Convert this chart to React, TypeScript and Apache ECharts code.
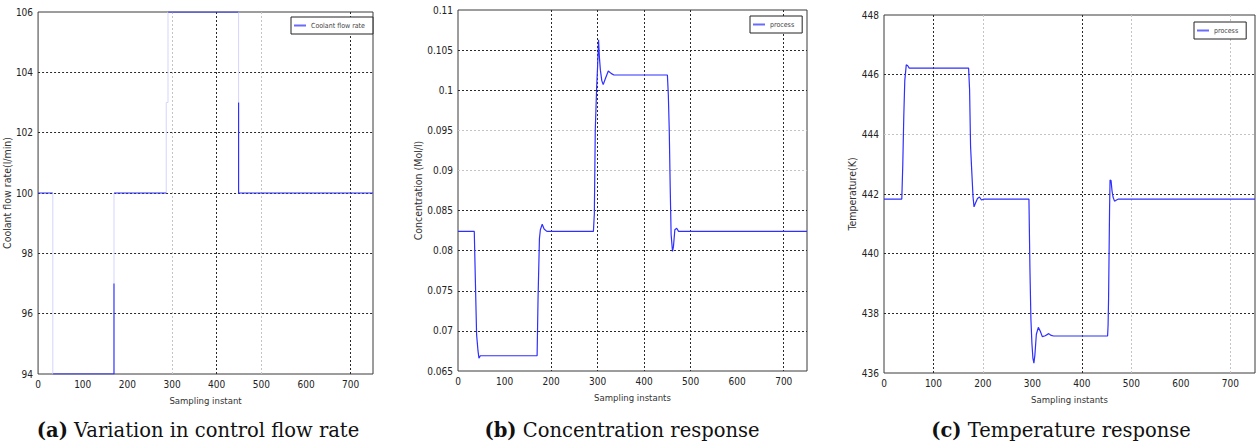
import React, { useEffect, useRef } from "react";
import * as echarts from "echarts";

// ---------- data ----------
const xTicksMax = 750;

// (a) Coolant flow rate [sampling instant, l/min] — strongly drawn parts
const coolantFlow: ([number, number] | null)[] = [
  [0, 100], [33, 100], null,
  [33, 94], [170, 94], [170, 97], null,
  [170, 100], [287, 100], null,
  [291, 106], [449, 106], null,
  [449, 103], [449, 100], [750, 100],
];
// (a) faintly rendered transitions of the same signal
const coolantFlowFaint: ([number, number] | null)[] = [
  [33, 100], [33, 94], null,
  [170, 97], [170, 100], null,
  [287, 100], [287, 103], [291, 103], [291, 106], null,
  [449, 106], [449, 103],
];

// (b) Concentration response [sampling instant, mol/l]
const concentration: [number, number][] = [
  [0, 0.0824], [35, 0.0824], [37, 0.0771], [39, 0.072], [40, 0.0695], [43, 0.0675],
  [45, 0.0666], [48, 0.0669], [170, 0.0669], [172, 0.074], [175, 0.0815], [177, 0.0826],
  [181, 0.0833], [185, 0.0827], [191, 0.0824], [291, 0.0824], [293, 0.0846], [295, 0.095],
  [298, 0.1004], [300, 0.103], [302, 0.1063], [304, 0.104], [306, 0.1025], [309, 0.1012],
  [312, 0.1007], [317, 0.1015], [323, 0.1024], [329, 0.1021], [335, 0.1019], [450, 0.1019],
  [452, 0.0994], [454, 0.095], [456, 0.088], [458, 0.082], [461, 0.0799], [463, 0.0805],
  [466, 0.0826], [470, 0.0828], [474, 0.0824], [750, 0.0824],
];

// (c) Temperature response [sampling instant, K]
const temperature: [number, number][] = [
  [0, 441.83], [36, 441.83], [38, 443.0], [40, 444.6], [42, 445.8], [45, 446.33],
  [48, 446.3], [51, 446.22], [171, 446.22], [173, 445.5], [175, 443.6], [177, 442.9],
  [180, 441.9], [182, 441.57], [185, 441.7], [189, 441.85], [193, 441.9], [197, 441.8],
  [202, 441.83], [293, 441.83], [295, 439.5], [297, 437.8], [299, 437.0], [301, 436.5],
  [303, 436.33], [305, 436.6], [308, 437.3], [312, 437.53], [316, 437.4], [320, 437.22],
  [326, 437.25], [333, 437.32], [338, 437.26], [343, 437.24], [452, 437.24], [453, 437.6],
  [454, 438.5], [455, 440.0], [456, 441.5], [457, 442.47], [459, 442.45], [461, 442.1],
  [463, 441.9], [466, 441.76], [470, 441.8], [474, 441.83], [750, 441.83],
];

const seriesNames = ["Coolant flow rate", "process", "process"];
const xTitles = ["Sampling instant", "Sampling instants", "Sampling instants"];
const yTitles = ["Coolant flow rate(l/min)", "Concentration (Mol/l)", "Temperature(K)"];
const captionTags = ["(a)", "(b)", "(c)"];
const captionTexts = ["Variation in control flow rate", "Concentration response", "Temperature response"];

// ---------- styling ----------
const T = "rgba(0,0,0,0)";
const D = "#2a2a2a";
const L = "#c4c4c4";
const LINE = "#2f2fff";
const FAINT = "#d4d4ff";
const tickFont = "'Liberation Sans Narrow', 'DejaVu Sans Condensed', 'Arial Narrow', sans-serif";
const captionFont = "'DejaVu Serif', serif";
const captionSize = 19.5;

const grids = [
  { left: 35, top: 12, width: 338, height: 362 },
  { left: 458, top: 10, width: 349, height: 361 },
  { left: 884, top: 15, width: 371, height: 358 },
];

const yRanges = [
  { min: 94, max: 106, interval: 2 },
  { min: 0.065, max: 0.11, interval: 0.005 },
  { min: 436, max: 448, interval: 2 },
];

const xGridColors = [
  [T, T, T, L, D, L, T, D, T],
  [T, T, D, D, D, D, T, D, T],
  [T, D, L, T, D, L, T, L, T],
];
const yGridColors = [
  [T, D, D, D, D, D, T],
  [T, D, D, D, D, L, L, D, D, T],
  [T, D, D, D, L, D, T],
];

const yNameGaps = [18, 23, 19];
const legendPos = [
  { left: 291, top: 17 },
  { left: 750, top: 16 },
  { left: 1194, top: 22 },
];
const captionCenters = [198, 622, 1061];

export default function App() {
  const ref = useRef<HTMLDivElement>(null);

  useEffect(() => {
    if (!ref.current) return;
    const chart = echarts.init(ref.current, undefined, { renderer: "svg" });
    const dataSets = [coolantFlow, concentration, temperature];

    const series: any[] = dataSets.map((d, i) => ({
      type: "line",
      name: seriesNames[i],
      xAxisIndex: i,
      yAxisIndex: i,
      data: d,
      showSymbol: false,
      symbol: "none",
      connectNulls: false,
      lineStyle: { color: LINE, width: 1.2 },
      itemStyle: { color: LINE },
      clip: true,
      z: 3,
    }));
    series.push({
      type: "line",
      name: "faint",
      xAxisIndex: 0,
      yAxisIndex: 0,
      data: coolantFlowFaint,
      showSymbol: false,
      symbol: "none",
      connectNulls: false,
      lineStyle: { color: FAINT, width: 1 },
      itemStyle: { color: FAINT },
      clip: true,
      z: 2,
    });

    const option: any = {
      animation: false,
      backgroundColor: "#ffffff",
      grid: grids.map((g) => ({
        ...g,
        show: true,
        borderColor: "#3a3a3a",
        borderWidth: 1,
        backgroundColor: "transparent",
        containLabel: false,
      })),
      xAxis: grids.map((_, i) => ({
        type: "value",
        gridIndex: i,
        min: 0,
        max: xTicksMax,
        interval: 100,
        name: xTitles[i],
        nameLocation: "middle",
        nameGap: 21,
        nameTextStyle: { fontSize: 9.5, color: "#333", fontFamily: tickFont },
        axisLine: { show: false },
        axisTick: { show: false },
        axisLabel: {
          showMaxLabel: false,
          margin: 5,
          fontSize: 10,
          color: "#222",
          fontFamily: tickFont,
        },
        splitLine: {
          show: true,
          lineStyle: { color: xGridColors[i], type: [2, 2], width: 1 },
        },
      })),
      yAxis: grids.map((_, i) => ({
        type: "value",
        gridIndex: i,
        min: yRanges[i].min,
        max: yRanges[i].max,
        interval: yRanges[i].interval,
        name: yTitles[i],
        nameLocation: "middle",
        nameRotate: 90,
        nameGap: yNameGaps[i],
        nameTextStyle: { fontSize: 10.5, color: "#333", fontFamily: tickFont },
        axisLine: { show: false },
        axisTick: { show: false },
        axisLabel: {
          margin: 5,
          fontSize: 10,
          color: "#222",
          fontFamily: tickFont,
        },
        splitLine: {
          show: true,
          lineStyle: { color: yGridColors[i], type: [2, 2], width: 1 },
        },
      })),
      legend: grids.map((_, i) => ({
        ...legendPos[i],
        data: [seriesNames[i]],
        orient: "vertical",
        backgroundColor: "#fff",
        borderColor: "#222",
        borderWidth: 1,
        borderRadius: 0,
        padding: [5, 8, 5, 3],
        itemWidth: 12,
        itemHeight: 2,
        icon: "rect",
        itemStyle: { color: "#6a6aff" },
        textStyle: { fontSize: 7, color: "#444", fontFamily: tickFont },
        selectedMode: false,
      })),
      series,
      graphic: captionCenters.map((cx, i) => ({
        type: "text",
        x: cx,
        y: 430,
        style: {
          text: `{b|${captionTags[i]}} ${captionTexts[i]}`,
          rich: {
            b: { fontWeight: "bold", fontSize: captionSize, fontFamily: captionFont, fill: "#111" },
          },
          fontSize: captionSize,
          fontFamily: captionFont,
          fill: "#111",
          align: "center",
          verticalAlign: "middle",
        },
      })),
    };

    chart.setOption(option);
    return () => chart.dispose();
  }, []);

  return (
    <div
      ref={ref}
      style={{ position: "absolute", left: 0, top: 0, width: 1260, height: 446 }}
    />
  );
}
